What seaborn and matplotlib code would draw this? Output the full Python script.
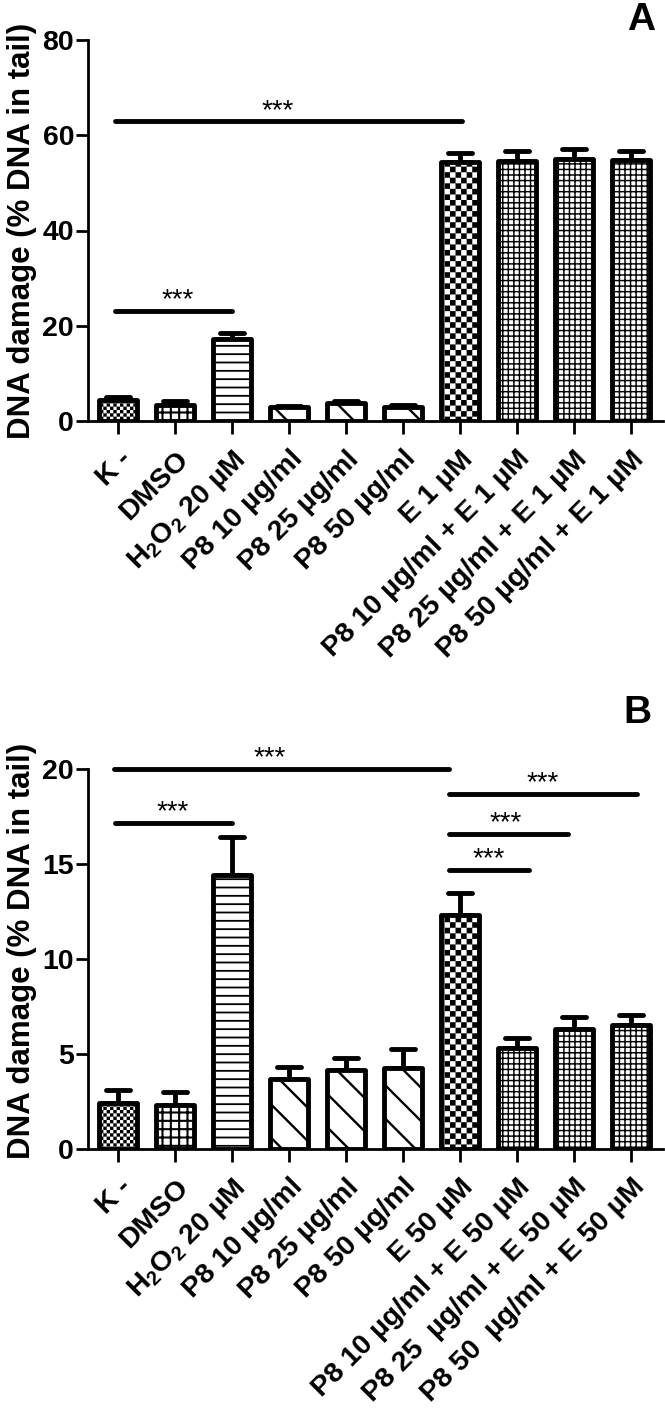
import warnings
import numpy as np
import pandas as pd
import matplotlib
matplotlib.use("Agg")
import matplotlib.pyplot as plt
import matplotlib.hatch as mhatch
from matplotlib.path import Path
from matplotlib.markers import MarkerStyle
import seaborn as sns

warnings.filterwarnings("ignore")

# ---- data ----
labels_a = ["K -", "DMSO", r"$\mathbf{H_2O_2}$ 20 µM", "P8 10 µg/ml", "P8 25 µg/ml",
            "P8 50 µg/ml", "E 1 µM", "P8 10 µg/ml + E 1 µM", "P8 25 µg/ml + E 1 µM",
            "P8 50 µg/ml + E 1 µM"]
mean_a = [4.5, 3.3, 17.3, 2.9, 3.8, 2.9, 54.3, 54.5, 55.0, 54.8]
sem_a = [0.5, 0.8, 1.2, 0.3, 0.5, 0.4, 2.0, 2.2, 2.2, 1.8]

labels_b = ["K -", "DMSO", r"$\mathbf{H_2O_2}$ 20 µM", "P8 10 µg/ml", "P8 25 µg/ml",
            "P8 50 µg/ml", "E 50 µM", "P8 10 µg/ml + E 50 µM", "P8 25  µg/ml + E 50 µM",
            "P8 50  µg/ml + E 50 µM"]
mean_b = [2.4, 2.3, 14.4, 3.7, 4.15, 4.25, 12.3, 5.3, 6.3, 6.55]
sem_b = [0.7, 0.7, 2.0, 0.6, 0.65, 1.0, 1.2, 0.55, 0.65, 0.5]

# significance brackets: (x start, x end, y, star x)
sig_a = [(-0.05, 2.0, 23.2, 1.05), (-0.05, 6.04, 62.9, 2.8)]
sig_b = [(-0.08, 5.8, 20.0, 2.65), (-0.05, 2.0, 17.15, 0.95),
         (5.8, 9.1, 18.7, 7.44), (5.8, 7.9, 16.6, 6.8), (5.8, 7.2, 14.7, 6.5)]

hatches = ["ccccc", "++", "--", "\\", "\\", "\\", "ccc", "+++", "+++", "+++"]
hatch_lw = [0.05, 1.5, 1.3, 1.7, 1.7, 1.7, 0.05, 1.05, 1.05, 1.05]


# checkerboard hatch ('c')
class CheckerHatch(mhatch.HatchPatternBase):
    def __init__(self, hatch, density):
        self.n = hatch.count("c") * density
        self.num_vertices = (self.n * self.n // 2) * 5

    def set_vertices_and_codes(self, vertices, codes):
        s = 1.0 / self.n
        k = 0
        for i in range(self.n):
            for j in range(self.n):
                if (i + j) % 2 == 0:
                    x, y = j * s, i * s
                    vertices[k:k + 5] = [(x, y), (x + s, y), (x + s, y + s), (x, y + s), (x, y)]
                    codes[k] = Path.MOVETO
                    codes[k + 1:k + 4] = Path.LINETO
                    codes[k + 4] = Path.CLOSEPOLY
                    k += 5


mhatch._hatch_types.append(CheckerHatch)

sns.set_style("ticks")
plt.rcParams["font.family"] = ["Liberation Sans", "DejaVu Sans"]
plt.rcParams["mathtext.fontset"] = "custom"
plt.rcParams["mathtext.rm"] = "Liberation Sans"
plt.rcParams["mathtext.bf"] = "Liberation Sans:bold"
plt.rcParams["hatch.linewidth"] = 1.4
for k in ["text.color", "axes.labelcolor", "xtick.color", "ytick.color", "axes.edgecolor"]:
    plt.rcParams[k] = "black"

fig = plt.figure(figsize=(6.65, 14.09), dpi=100)
W, H = 665, 1409
ax_a = fig.add_axes([88 / W, 1 - 421 / H, 575 / W, 381 / H])
ax_b = fig.add_axes([88 / W, 1 - 1149 / H, 575 / W, 380 / H])


def draw_panel(ax, labels, means, sems, sigs, ymax, ystep, label_y):
    df = pd.DataFrame({"group": labels, "value": means})
    sns.barplot(data=df, x="group", y="value", ax=ax, color="white", saturation=1,
                edgecolor="black", linewidth=3.5, width=0.66, errorbar=None, zorder=3)
    for patch, h, hl in zip(ax.patches, hatches, hatch_lw):
        patch.set_hatch(h)
        patch.set_joinstyle("round")
        if hasattr(patch, "set_hatch_linewidth"):
            patch.set_hatch_linewidth(hl)
    eb = ax.errorbar(np.arange(len(means)), means, yerr=[np.zeros(len(sems)), sems],
                     fmt="none", ecolor="black", elinewidth=3.5, capsize=8.3,
                     capthick=3.5, zorder=2)
    for cap in eb[1]:
        cap.set_marker(MarkerStyle("_", capstyle="round"))
    for x0, x1, y, xs in sigs:
        ax.plot([x0, x1], [y, y], color="black", lw=3.5, solid_capstyle="round",
                clip_on=False, zorder=4)
        ax.annotate("***", xy=(xs, y), xytext=(0, 2.5), textcoords="offset points",
                    ha="center", va="baseline", fontsize=20, annotation_clip=False)
    ax.set_xlim(-0.53, 9.56)
    ax.set_ylim(0, ymax)
    ax.set_yticks(np.arange(0, ymax + 0.1, ystep))
    ax.set_xlabel("")
    ax.set_ylabel("DNA damage (% DNA in tail)", fontsize=22.5, fontweight="bold")
    ax.yaxis.set_label_coords(-0.089, label_y)
    ax.set_xticks(range(len(labels)))
    ax.set_xticklabels(labels, rotation=45, ha="right", rotation_mode="anchor",
                       fontsize=20.5, fontweight="bold")
    for t in ax.get_yticklabels():
        t.set_fontweight("bold")
        t.set_fontsize(20.5)
    ax.tick_params(axis="x", length=9, width=2, pad=9, color="black")
    ax.tick_params(axis="y", length=9, width=2, pad=1, color="black")
    for s in ["top", "right"]:
        ax.spines[s].set_visible(False)
    for s in ["left", "bottom"]:
        ax.spines[s].set_linewidth(2)
        ax.spines[s].set_color("black")


draw_panel(ax_a, labels_a, mean_a, sem_a, sig_a, 80, 20, 0.5)
draw_panel(ax_b, labels_b, mean_b, sem_b, sig_b, 20, 5, 0.52)

fig.text(641 / W, 1 - 20 / H, "A", fontsize=28, fontweight="bold", ha="center", va="center")
fig.text(637 / W, 1 - 713 / H, "B", fontsize=28, fontweight="bold", ha="center", va="center")

fig.savefig("out.png", dpi=100)
